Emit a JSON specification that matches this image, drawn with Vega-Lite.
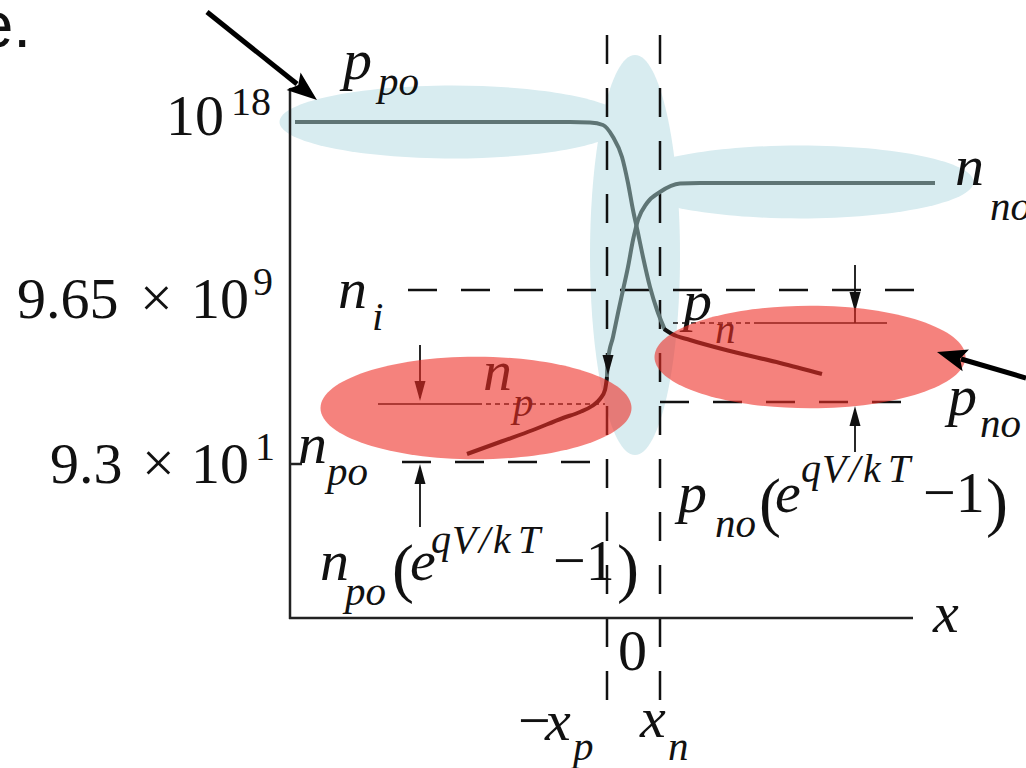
{
  "$schema": "https://vega.github.io/schema/vega-lite/v6.json",
  "width": 1026,
  "height": 768,
  "padding": 0,
  "autosize": "none",
  "background": "white",
  "config": {"view": {"stroke": null}},
  "datasets": {
    "majorityBands": [{"x": 453, "y": 122}, {"x": 800, "y": 182}],
    "junctionBand": [{"x": 635, "y": 255}],
    "excessBands": [{"x": 476, "y": 408}, {"x": 810, "y": 357}],
    "frame": [
      {"x": 290, "y": 88, "x2": 290, "y2": 619},
      {"x": 289, "y": 618, "x2": 913, "y2": 618},
      {"x": 290, "y": 89, "x2": 302, "y2": 89},
      {"x": 290, "y": 464, "x2": 302, "y2": 464}
    ],
    "guides": [
      {"x": 607, "y": 35, "x2": 607, "y2": 702},
      {"x": 660, "y": 35, "x2": 660, "y2": 702},
      {"x": 408, "y": 290, "x2": 923, "y2": 290},
      {"x": 402, "y": 462, "x2": 607, "y2": 462},
      {"x": 660, "y": 402, "x2": 907, "y2": 402}
    ],
    "majorityCurves": [
      {"curve": "p", "x": 295, "y": 122}, {"curve": "p", "x": 570, "y": 122},
      {"curve": "p", "x": 590, "y": 122.5}, {"curve": "p", "x": 603, "y": 125},
      {"curve": "p", "x": 613, "y": 137}, {"curve": "p", "x": 622, "y": 157},
      {"curve": "p", "x": 628, "y": 183}, {"curve": "p", "x": 633, "y": 210},
      {"curve": "p", "x": 638, "y": 233}, {"curve": "p", "x": 643, "y": 257},
      {"curve": "p", "x": 650, "y": 287}, {"curve": "p", "x": 657, "y": 310},
      {"curve": "p", "x": 665, "y": 330},
      {"curve": "n", "x": 607, "y": 377}, {"curve": "n", "x": 608, "y": 360},
      {"curve": "n", "x": 613, "y": 337}, {"curve": "n", "x": 618, "y": 313},
      {"curve": "n", "x": 623, "y": 290}, {"curve": "n", "x": 628, "y": 267},
      {"curve": "n", "x": 633, "y": 240}, {"curve": "n", "x": 638, "y": 220},
      {"curve": "n", "x": 647, "y": 203}, {"curve": "n", "x": 660, "y": 192},
      {"curve": "n", "x": 680, "y": 183.5}, {"curve": "n", "x": 700, "y": 183},
      {"curve": "n", "x": 935, "y": 183}
    ],
    "excessCurves": [
      {"curve": "np", "x": 467, "y": 454}, {"curve": "np", "x": 500, "y": 442},
      {"curve": "np", "x": 533, "y": 430}, {"curve": "np", "x": 563, "y": 418},
      {"curve": "np", "x": 580, "y": 412}, {"curve": "np", "x": 592, "y": 406},
      {"curve": "np", "x": 600, "y": 399}, {"curve": "np", "x": 605, "y": 390},
      {"curve": "np", "x": 607, "y": 377},
      {"curve": "pn", "x": 664, "y": 329}, {"curve": "pn", "x": 672, "y": 334},
      {"curve": "pn", "x": 690, "y": 340}, {"curve": "pn", "x": 730, "y": 351},
      {"curve": "pn", "x": 780, "y": 363}, {"curve": "pn", "x": 822, "y": 374}
    ],
    "levels": [
      {"x": 378, "y": 404, "x2": 477, "y2": 404},
      {"x": 757, "y": 323, "x2": 887, "y2": 323}
    ],
    "levelsDotted": [
      {"x": 477, "y": 404, "x2": 605, "y2": 404},
      {"x": 673, "y": 323, "x2": 757, "y2": 323}
    ],
    "markerStems": [
      {"x": 420, "y": 345, "x2": 420, "y2": 398},
      {"x": 420, "y": 527, "x2": 420, "y2": 470},
      {"x": 855, "y": 265, "x2": 855, "y2": 323},
      {"x": 855, "y": 452, "x2": 855, "y2": 410}
    ],
    "headsDown": [{"x": 420, "y": 401}, {"x": 855, "y": 312}, {"x": 608, "y": 375}],
    "headsUp": [{"x": 420, "y": 464}, {"x": 855, "y": 406}],
    "pointerStems": [
      {"x": 207, "y": 12, "x2": 297, "y2": 84},
      {"x": 1026, "y": 378, "x2": 961, "y2": 359}
    ],
    "pointerHeadA": [{"x": 317, "y": 100}],
    "pointerHeadB": [{"x": 937, "y": 352}],
    "romanText": [
      {"x": 166, "y": 135, "label": "10"},
      {"x": 17, "y": 318, "label": "9.65"},
      {"x": 140, "y": 317, "label": "×"},
      {"x": 191, "y": 318, "label": "10"},
      {"x": 50, "y": 483, "label": "9.3"},
      {"x": 142, "y": 482, "label": "×"},
      {"x": 191, "y": 483, "label": "10"},
      {"x": 618, "y": 670, "label": "0"},
      {"x": 553, "y": 580, "label": "−1"},
      {"x": 923, "y": 512, "label": "−1"},
      {"x": 518, "y": 740, "label": "−"}
    ],
    "brackets": [
      {"x": 392, "y": 590, "label": "("},
      {"x": 617, "y": 590, "label": ")"},
      {"x": 759, "y": 524, "label": "("},
      {"x": 986, "y": 524, "label": ")"}
    ],
    "romanSup": [
      {"x": 231, "y": 115, "label": "18"},
      {"x": 253, "y": 295, "label": "9"},
      {"x": 255, "y": 460, "label": "1"}
    ],
    "mathText": [
      {"x": 343, "y": 79, "label": "p"},
      {"x": 955, "y": 185, "label": "n"},
      {"x": 338, "y": 308, "label": "n"},
      {"x": 483, "y": 390, "label": "n"},
      {"x": 683, "y": 320, "label": "p"},
      {"x": 298, "y": 463, "label": "n"},
      {"x": 948, "y": 415, "label": "p"},
      {"x": 320, "y": 580, "label": "n"},
      {"x": 410, "y": 580, "label": "e"},
      {"x": 678, "y": 512, "label": "p"},
      {"x": 775, "y": 512, "label": "e"},
      {"x": 545, "y": 740, "label": "x"},
      {"x": 640, "y": 737, "label": "x"},
      {"x": 933, "y": 632, "label": "x"}
    ],
    "mathSub": [
      {"x": 378, "y": 95, "label": "po"},
      {"x": 990, "y": 220, "label": "no"},
      {"x": 372, "y": 330, "label": "i"},
      {"x": 513, "y": 416, "label": "p"},
      {"x": 715, "y": 343, "label": "n"},
      {"x": 327, "y": 485, "label": "po"},
      {"x": 980, "y": 437, "label": "no"},
      {"x": 345, "y": 605, "label": "po"},
      {"x": 715, "y": 537, "label": "no"},
      {"x": 573, "y": 760, "label": "p"},
      {"x": 668, "y": 760, "label": "n"}
    ],
    "mathSup": [
      {"x": 431, "y": 553, "label": "q"},
      {"x": 452, "y": 553, "label": "V"},
      {"x": 479, "y": 553, "label": "/"},
      {"x": 493, "y": 553, "label": "k"},
      {"x": 518, "y": 553, "label": "T"},
      {"x": 801, "y": 482, "label": "q"},
      {"x": 822, "y": 482, "label": "V"},
      {"x": 849, "y": 482, "label": "/"},
      {"x": 863, "y": 482, "label": "k"},
      {"x": 888, "y": 482, "label": "T"}
    ],
    "caption": [{"x": 31, "y": 47, "label": "e."}]
  },
  "encoding": {
    "x": {"field": "x", "type": "quantitative", "axis": null, "scale": {"domain": [0, 1026], "nice": false, "zero": false}},
    "y": {"field": "y", "type": "quantitative", "axis": null, "scale": {"domain": [0, 768], "nice": false, "zero": false, "reverse": true}}
  },
  "layer": [
    {
      "data": {"name": "majorityBands"},
      "mark": {"type": "point", "filled": true, "color": "#d8ecf0", "opacity": 1, "strokeWidth": 0, "size": 120409,
        "shape": "M-1,0C-1,-0.116,-0.552,-0.21,0,-0.21C0.552,-0.21,1,-0.116,1,0C1,0.116,0.552,0.21,0,0.21C-0.552,0.21,-1,0.116,-1,0Z"}
    },
    {
      "data": {"name": "junctionBand"},
      "mark": {"type": "point", "filled": true, "color": "#d8ecf0", "opacity": 1, "strokeWidth": 0, "size": 160000,
        "shape": "M-0.225,0C-0.225,-0.552,-0.124,-1,0,-1C0.124,-1,0.225,-0.552,0.225,0C0.225,0.552,0.124,1,0,1C-0.124,1,-0.225,0.552,-0.225,0Z"}
    },
    {
      "data": {"name": "guides"},
      "mark": {"type": "rule", "color": "#111111", "strokeWidth": 2.5, "strokeDash": [29, 24]},
      "encoding": {"x2": {"field": "x2"}, "y2": {"field": "y2"}}
    },
    {
      "data": {"name": "frame"},
      "mark": {"type": "rule", "color": "#222222", "strokeWidth": 2.5},
      "encoding": {"x2": {"field": "x2"}, "y2": {"field": "y2"}}
    },
    {
      "data": {"name": "majorityCurves"},
      "mark": {"type": "line", "color": "#5f7575", "strokeWidth": 4, "interpolate": "monotone"},
      "encoding": {"detail": {"field": "curve"}}
    },
    {
      "data": {"name": "excessCurves"},
      "mark": {"type": "line", "color": "#111111", "strokeWidth": 4, "interpolate": "monotone"},
      "encoding": {"detail": {"field": "curve"}}
    },
    {
      "data": {"name": "levels"},
      "mark": {"type": "rule", "color": "#111111", "strokeWidth": 1.6},
      "encoding": {"x2": {"field": "x2"}, "y2": {"field": "y2"}}
    },
    {
      "data": {"name": "levelsDotted"},
      "mark": {"type": "rule", "color": "#111111", "strokeWidth": 1.3, "strokeDash": [5, 4]},
      "encoding": {"x2": {"field": "x2"}, "y2": {"field": "y2"}}
    },
    {
      "data": {"name": "markerStems"},
      "mark": {"type": "rule", "color": "#111111", "strokeWidth": 1.8},
      "encoding": {"x2": {"field": "x2"}, "y2": {"field": "y2"}}
    },
    {
      "data": {"name": "headsDown"},
      "mark": {"type": "point", "filled": true, "color": "#111111", "opacity": 1, "strokeWidth": 0, "size": 400,
        "shape": "M0,0L-0.55,-2L0.55,-2Z"}
    },
    {
      "data": {"name": "headsUp"},
      "mark": {"type": "point", "filled": true, "color": "#111111", "opacity": 1, "strokeWidth": 0, "size": 400,
        "shape": "M0,0L-0.55,2L0.55,2Z"}
    },
    {
      "data": {"name": "romanText"},
      "mark": {"type": "text", "font": "Liberation Serif", "fontSize": 58, "align": "left", "baseline": "alphabetic", "color": "#111111"},
      "encoding": {"text": {"field": "label"}}
    },
    {
      "data": {"name": "brackets"},
      "mark": {"type": "text", "font": "Liberation Serif", "fontSize": 66, "align": "left", "baseline": "alphabetic", "color": "#111111"},
      "encoding": {"text": {"field": "label"}}
    },
    {
      "data": {"name": "romanSup"},
      "mark": {"type": "text", "font": "Liberation Serif", "fontSize": 40, "align": "left", "baseline": "alphabetic", "color": "#111111"},
      "encoding": {"text": {"field": "label"}}
    },
    {
      "data": {"name": "mathText"},
      "mark": {"type": "text", "font": "Liberation Serif", "fontStyle": "italic", "fontSize": 58, "align": "left", "baseline": "alphabetic", "color": "#111111"},
      "encoding": {"text": {"field": "label"}}
    },
    {
      "data": {"name": "mathSub"},
      "mark": {"type": "text", "font": "Liberation Serif", "fontStyle": "italic", "fontSize": 41, "align": "left", "baseline": "alphabetic", "color": "#111111"},
      "encoding": {"text": {"field": "label"}}
    },
    {
      "data": {"name": "mathSup"},
      "mark": {"type": "text", "font": "Liberation Serif", "fontStyle": "italic", "fontSize": 40, "align": "left", "baseline": "alphabetic", "color": "#111111"},
      "encoding": {"text": {"field": "label"}}
    },
    {
      "data": {"name": "excessBands"},
      "mark": {"type": "point", "filled": true, "color": "#ee2f26", "opacity": 0.6, "strokeWidth": 0, "size": 96721,
        "shape": "M-1,0C-1,-0.182,-0.552,-0.33,0,-0.33C0.552,-0.33,1,-0.182,1,0C1,0.182,0.552,0.33,0,0.33C-0.552,0.33,-1,0.182,-1,0Z"}
    },
    {
      "data": {"name": "pointerStems"},
      "mark": {"type": "rule", "color": "#000000", "strokeWidth": 5},
      "encoding": {"x2": {"field": "x2"}, "y2": {"field": "y2"}}
    },
    {
      "data": {"name": "pointerHeadA"},
      "mark": {"type": "point", "filled": true, "color": "#000000", "opacity": 1, "strokeWidth": 0, "size": 900, "angle": 38.6,
        "shape": "M0,0L-2,-0.75L-1.6,0L-2,0.75Z"}
    },
    {
      "data": {"name": "pointerHeadB"},
      "mark": {"type": "point", "filled": true, "color": "#000000", "opacity": 1, "strokeWidth": 0, "size": 900, "angle": 196.3,
        "shape": "M0,0L-2,-0.75L-1.6,0L-2,0.75Z"}
    },
    {
      "data": {"name": "caption"},
      "mark": {"type": "text", "font": "Liberation Sans", "fontSize": 64, "align": "right", "baseline": "alphabetic", "color": "#111111"},
      "encoding": {"text": {"field": "label"}}
    }
  ]
}
